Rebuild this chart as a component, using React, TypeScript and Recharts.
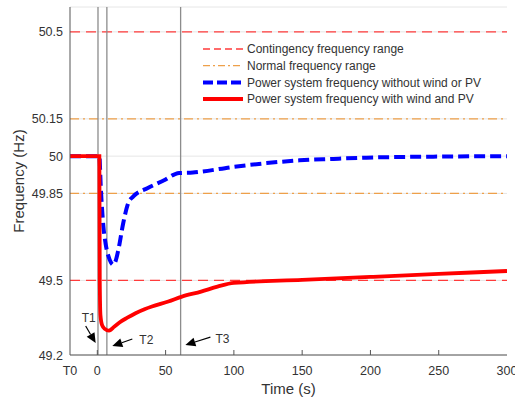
import React from "react";
import {
  LineChart,
  Line,
  XAxis,
  YAxis,
  CartesianGrid,
  ReferenceLine,
  ReferenceDot,
  Legend,
} from "recharts";

// Frequency response after the disturbance, time in seconds
const redTime = [-20, 1.5, 1.8, 2.3, 3.5, 5.5, 8.5, 10, 12, 16, 22, 28, 35, 40, 52, 62, 76, 88, 100, 150, 200, 250, 300];
const redFreq = [50, 50, 49.5, 49.36, 49.32, 49.305, 49.298, 49.302, 49.312, 49.33, 49.35, 49.368, 49.385, 49.395, 49.415, 49.435, 49.455, 49.475, 49.49, 49.502, 49.514, 49.526, 49.538];

const blueTime = [-20, 1.5, 2.5, 4.4, 6, 8, 10, 11.7, 13.5, 15.4, 19, 22.7, 26.4, 37, 50, 57, 60, 70, 75, 100, 124, 148, 173, 197, 246, 300];
const blueFreq = [50, 50, 49.88, 49.72, 49.65, 49.6, 49.572, 49.563, 49.58, 49.623, 49.731, 49.812, 49.838, 49.872, 49.906, 49.928, 49.932, 49.934, 49.937, 49.957, 49.972, 49.983, 49.989, 49.994, 49.998, 50.0];

// Operating bands
const contingencyBand = [49.5, 50.5];
const normalBand = [49.85, 50.15];

// Event instants T1, T2, T3
const eventTimes = [0.5, 7, 61];
const eventNames = ["T1", "T2", "T3"];
// Arrow tips (time, frequency) for the event annotations
const arrowTips = [
  { t: -1.2, f: 49.248 },
  { t: 11, f: 49.236 },
  { t: 64.5, f: 49.24 },
];

const xTicks = [-20, 0, 50, 100, 150, 200, 250, 300];
const xTickLabels = ["T0", "0", "50", "100", "150", "200", "250", "300"];
const yTicks = [49.2, 49.5, 49.85, 50, 50.15, 50.5];

const legendItems = [
  { label: "Contingency frequency range", color: "#ff3b3b", width: 1.3, dash: "7 4" },
  { label: "Normal frequency range", color: "#eea04a", width: 1.3, dash: "7 3 2 3" },
  { label: "Power system frequency without wind or PV", color: "#0000ff", width: 4, dash: "10 4" },
  { label: "Power system frequency with wind and PV", color: "#ff0000", width: 4, dash: undefined },
];

const redData = redTime.map((t, i) => ({ t, f: redFreq[i] }));
const blueData = blueTime.map((t, i) => ({ t, f: blueFreq[i] }));

const FONT = "'Liberation Sans', Arial, Helvetica, sans-serif";
const TEXT = "#333333";
const FRAME = "#555555";

const BottomTick = (props: any) => {
  const { x, y, payload } = props;
  const idx = xTicks.indexOf(payload.value);
  const inner = idx > 0 && idx < xTicks.length - 1;
  return (
    <g>
      {inner && <line x1={x} x2={x} y1={y} y2={y - 5} stroke={FRAME} strokeWidth={1} />}
      <text x={x} y={y + 19.5} textAnchor="middle" fontSize={12.5} fontFamily={FONT} fill={TEXT}>
        {xTickLabels[idx]}
      </text>
    </g>
  );
};

const TopTick = (props: any) => {
  const { x, y, payload } = props;
  const idx = xTicks.indexOf(payload.value);
  if (idx <= 0 || idx >= xTicks.length - 1) return <g />;
  return <line x1={x} x2={x} y1={y} y2={y + 5} stroke={FRAME} strokeWidth={1} />;
};

const LeftTick = (props: any) => {
  const { x, y, payload } = props;
  return (
    <g>
      <text x={x - 7} y={y + 4.5} textAnchor="end" fontSize={12.5} fontFamily={FONT} fill={TEXT}>
        {String(payload.value)}
      </text>
    </g>
  );
};

const RightTick = () => <g />;

const YTitle = (props: any) => {
  const vb = props.viewBox;
  const cx = vb.x + 18;
  const cy = vb.y + vb.height / 2;
  return (
    <text
      x={cx}
      y={cy}
      transform={`rotate(-90, ${cx}, ${cy})`}
      textAnchor="middle"
      dominantBaseline="central"
      fontSize={15}
      fontFamily={FONT}
      fill={TEXT}
    >
      Frequency (Hz)
    </text>
  );
};

const XTitle = (props: any) => {
  const vb = props.viewBox;
  return (
    <text
      x={vb.x + vb.width / 2}
      y={vb.y + 39}
      textAnchor="middle"
      fontSize={15}
      fontFamily={FONT}
      fill={TEXT}
    >
      Time (s)
    </text>
  );
};

const LegendBox = () => (
  <svg width={300} height={70} style={{ display: "block" }}>
    {legendItems.map((it, i) => {
      const cy = 8 + i * 16.7;
      return (
        <g key={it.label}>
          <line
            x1={8}
            x2={48}
            y1={cy}
            y2={cy}
            stroke={it.color}
            strokeWidth={it.width}
            strokeDasharray={it.dash}
          />
          <text x={52} y={cy + 4.3} fontSize={12} fontFamily={FONT} fill={TEXT}>
            {it.label}
          </text>
        </g>
      );
    })}
  </svg>
);

const makeArrow = (i: number) => (props: any) => {
  const { cx, cy } = props;
  if (cx == null || cy == null) return <g />;
  // tail offsets and label placement relative to the arrow tip
  const tails = [
    { dx: -10, dy: -17, tx: -7, ty: -21, anchor: "middle" },
    { dx: 20, dy: -7, tx: 27, ty: -2, anchor: "start" },
    { dx: 25, dy: -8, tx: 30, ty: -2, anchor: "start" },
  ];
  const tl = tails[i];
  const tx = cx + tl.dx;
  const ty = cy + tl.dy;
  const ang = Math.atan2(cy - ty, cx - tx);
  const L = 10;
  const W = 4.5;
  const bx = cx - L * Math.cos(ang);
  const by = cy - L * Math.sin(ang);
  const px = -Math.sin(ang) * W;
  const py = Math.cos(ang) * W;
  return (
    <g>
      <line x1={tx} y1={ty} x2={bx} y2={by} stroke="#000" strokeWidth={1.2} />
      <polygon points={`${cx},${cy} ${bx + px},${by + py} ${bx - px},${by - py}`} fill="#000" />
      <text
        x={cx + tl.tx}
        y={cy + tl.ty}
        textAnchor={tl.anchor as any}
        fontSize={12}
        fontFamily={FONT}
        fill={TEXT}
      >
        {eventNames[i]}
      </text>
    </g>
  );
};

export default function App() {
  return (
    <div style={{ position: "absolute", left: 0, top: 0, background: "#fff" }}>
      <LineChart width={515} height={398} margin={{ top: 7, right: 8, bottom: 0, left: 0 }}>
        <CartesianGrid horizontal vertical={false} stroke="#e6e6e6" strokeWidth={1} />
        <XAxis
          dataKey="t"
          type="number"
          domain={[-20, 300]}
          ticks={xTicks}
          allowDataOverflow
          height={43}
          tickSize={0}
          tickMargin={0}
          tick={<BottomTick />}
          axisLine={{ stroke: FRAME }}
          label={{ content: XTitle } as any}
          interval={0}
        />
        <XAxis
          xAxisId="top"
          orientation="top"
          dataKey="t"
          type="number"
          domain={[-20, 300]}
          ticks={xTicks}
          height={0}
          tickSize={0}
          tickMargin={0}
          tick={<TopTick />}
          axisLine={{ stroke: FRAME }}
          interval={0}
        />
        <YAxis
          type="number"
          domain={[49.2, 50.6]}
          ticks={yTicks}
          allowDataOverflow
          width={70}
          tickSize={0}
          tickMargin={0}
          tick={<LeftTick />}
          axisLine={{ stroke: FRAME }}
          label={{ content: YTitle } as any}
          interval={0}
        />
        <YAxis
          yAxisId="r"
          orientation="right"
          type="number"
          domain={[49.2, 50.6]}
          ticks={yTicks}
          width={0}
          tickSize={0}
          tickMargin={0}
          tick={<RightTick />}
          axisLine={{ stroke: FRAME }}
        />

        {contingencyBand.map((v) => (
          <ReferenceLine key={`c${v}`} y={v} stroke="#ff3b3b" strokeWidth={1.3} strokeDasharray="10 6" />
        ))}
        {normalBand.map((v) => (
          <ReferenceLine key={`n${v}`} y={v} stroke="#eea04a" strokeWidth={1.3} strokeDasharray="9 4 2 4" />
        ))}
        {eventTimes.map((t) => (
          <ReferenceLine key={`e${t}`} x={t} stroke="#8c8c8c" strokeWidth={1.3} />
        ))}

        <Line
          data={blueData}
          dataKey="f"
          type="monotone"
          stroke="#0000ff"
          strokeWidth={4}
          strokeDasharray="11 5"
          dot={false}
          isAnimationActive={false}
          legendType="none"
        />
        <Line
          data={redData}
          dataKey="f"
          type="monotone"
          stroke="#ff0000"
          strokeWidth={3.8}
          dot={false}
          isAnimationActive={false}
          legendType="none"
        />

        {arrowTips.map((a, i) => (
          <ReferenceDot key={`a${i}`} x={a.t} y={a.f} r={0} shape={makeArrow(i)} ifOverflow="visible" />
        ))}

        <Legend
          layout="vertical"
          align="center"
          verticalAlign="middle"
          content={<LegendBox />}
          wrapperStyle={{ left: 195, top: 41, width: 300, height: 70 }}
        />
      </LineChart>
    </div>
  );
}
